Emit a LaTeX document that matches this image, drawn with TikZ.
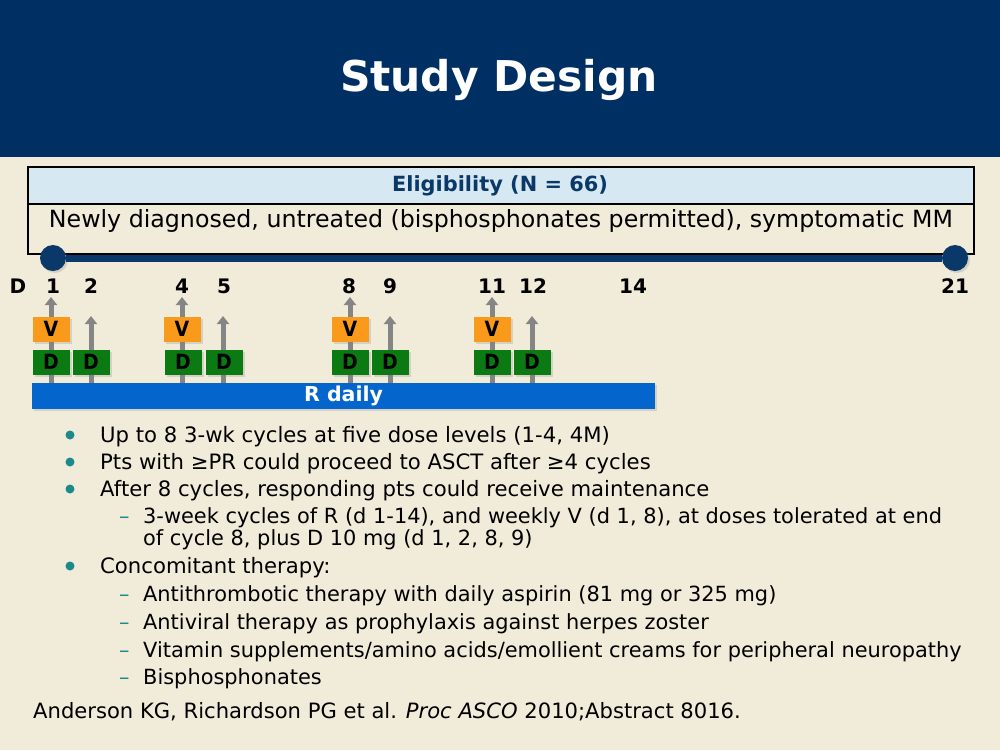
\documentclass[tikz,border=0pt]{standalone}
\usepackage{fontspec}
\setmainfont{DejaVu Sans}
\newfontfamily\condfont{DejaVu Sans Condensed}
\usetikzlibrary{arrows.meta,shadows}
\definecolor{bg}{HTML}{F1EBDA}
\definecolor{hdr}{HTML}{003063}
\definecolor{dkblue}{HTML}{0A3868}
\definecolor{ltblue}{HTML}{D6E8F1}
\definecolor{vorange}{HTML}{FA9A1A}
\definecolor{dgreen}{HTML}{0B7A12}
\definecolor{rblue}{HTML}{0466CC}
\definecolor{agray}{HTML}{858585}
\definecolor{teal}{HTML}{1C8A8A}
\tikzset{
  daylbl/.style={font=\fontsize{20}{24}\selectfont\bfseries, inner sep=0pt},
  garrow/.style={draw=agray, line width=5pt, -{Triangle[width=12pt,length=8pt]}},
  boxshadow/.style={drop shadow={opacity=0.25, shadow xshift=2pt, shadow yshift=-2pt}},
  vbox/.style={boxshadow, fill=vorange, minimum width=37pt, minimum height=25pt, inner sep=0pt, font=\condfont\fontsize{21}{24}\selectfont\bfseries},
  dbox/.style={boxshadow, fill=dgreen, minimum width=37pt, minimum height=25pt, inner sep=0pt, font=\condfont\fontsize{21}{24}\selectfont\bfseries},
  btext/.style={anchor=base west, inner sep=0pt, font=\fontsize{21.2}{24}\selectfont},
  stext/.style={anchor=base west, inner sep=0pt, font=\fontsize{20.9}{24}\selectfont},
  bdot/.style={circle, fill=teal, inner sep=0pt, minimum size=9pt},
  sdash/.style={anchor=base west, inner sep=0pt, text=teal, font=\fontsize{20.9}{24}\selectfont},
}
\begin{document}
\begin{tikzpicture}[x=1pt,y=-1pt]
\useasboundingbox (0,0) rectangle (1000,750);
\fill[bg] (0,0) rectangle (1000,750);
\fill[hdr] (0,0) rectangle (1000,157);
\node[font=\fontsize{42.4}{50}\selectfont\bfseries, text=white] (title) at (499,80) {Study Design};

% eligibility box
\node[draw=black, line width=1.5pt, fill=ltblue, minimum width=946pt, minimum height=37pt, anchor=north west, inner sep=0pt] (elighead) at (27,166) {};
\node[draw=black, line width=1.5pt, minimum width=946pt, minimum height=50pt, anchor=north west, inner sep=0pt] (eligbody) at (27,203) {};
\node[text=dkblue, font=\fontsize{20.9}{24}\selectfont\bfseries] (eligtitle) at (500,186) {Eligibility (N = 66)};
\node[font=\fontsize{23.7}{28}\selectfont] (eligtext) at (501,221) {Newly diagnosed, untreated (bisphosphonates permitted), symptomatic MM};

% timeline
\node[circle, fill=dkblue, minimum size=26pt, inner sep=0pt, boxshadow] (c1) at (53,258) {};
\node[circle, fill=dkblue, minimum size=26pt, inner sep=0pt, boxshadow] (c21) at (955,258) {};
\draw[dkblue, line width=7pt] (c1.east) -- (c21.west);

% day labels
\node[daylbl] (dD) at (18,286) {D};
\node[daylbl] (d1) at (53,286) {1};
\node[daylbl] (d2) at (91,286) {2};
\node[daylbl] (d4) at (182,286) {4};
\node[daylbl] (d5) at (224,286) {5};
\node[daylbl] (d8) at (349,286) {8};
\node[daylbl] (d9) at (390,286) {9};
\node[daylbl] (d11) at (492,286) {11};
\node[daylbl] (d12) at (533,286) {12};
\node[daylbl] (d14) at (633,286) {14};
\node[daylbl] (d21) at (955,286) {21};

% arrows
\foreach \n/\x/\t in {a1/51/297,a2/91/316,a4/182/297,a5/223/316,a8/350/297,a9/390/316,a11/492/297,a12/532/316}{
  \coordinate (\n b) at (\x,384);
  \coordinate (\n t) at (\x,\t);
  \draw[garrow] (\n b) -- (\n t);
}

% V boxes
\node[vbox] (v1) at (51,329) {V};
\node[vbox] (v4) at (182,329) {V};
\node[vbox] (v8) at (350,329) {V};
\node[vbox] (v11) at (492,329) {V};
% D boxes
\node[dbox] (D1) at (51,362) {D};
\node[dbox] (D2) at (91,362) {D};
\node[dbox] (D4) at (183,362) {D};
\node[dbox] (D5) at (224,362) {D};
\node[dbox] (D8) at (350,362) {D};
\node[dbox] (D9) at (390,362) {D};
\node[dbox] (D11) at (492,362) {D};
\node[dbox] (D12) at (532,362) {D};

% R daily
\node[boxshadow, fill=rblue, minimum width=623pt, minimum height=26pt, inner sep=0pt, text=white, font=\fontsize{20.5}{24}\selectfont\bfseries] (rbar) at (343.5,396) {R daily};

% bullets
\node[bdot] (b1) at (70,435) {};
\node[btext] (t1) at (100,442) {Up to 8 3-wk cycles at five dose levels (1-4, 4M)};
\node[bdot] (b2) at (70,462) {};
\node[btext] (t2) at (100,469) {Pts with ≥PR could proceed to ASCT after ≥4 cycles};
\node[bdot] (b3) at (70,489) {};
\node[btext] (t3) at (100,496) {After 8 cycles, responding pts could receive maintenance};
\node[sdash] (s1) at (119,523) {–};
\node[stext] (t4) at (143,523) {3-week cycles of R (d 1-14), and weekly V (d 1, 8), at doses tolerated at end};
\node[stext] (t5) at (143,545) {of cycle 8, plus D 10 mg (d 1, 2, 8, 9)};
\node[bdot] (b4) at (70,566) {};
\node[btext] (t6) at (100,573) {Concomitant therapy:};
\node[sdash] (s2) at (119,601) {–};
\node[stext] (t7) at (143,601) {Antithrombotic therapy with daily aspirin (81 mg or 325 mg)};
\node[sdash] (s3) at (119,629) {–};
\node[stext] (t8) at (143,629) {Antiviral therapy as prophylaxis against herpes zoster};
\node[sdash] (s4) at (119,657) {–};
\node[stext] (t9) at (143,657) {Vitamin supplements/amino acids/emollient creams for peripheral neuropathy};
\node[sdash] (s5) at (119,684) {–};
\node[stext] (t10) at (143,684) {Bisphosphonates};

\node[btext, font=\fontsize{21.1}{24}\selectfont] (foot) at (33,718) {Anderson KG, Richardson PG et al. \emph{Proc ASCO} 2010;Abstract 8016.};
\end{tikzpicture}
\end{document}
